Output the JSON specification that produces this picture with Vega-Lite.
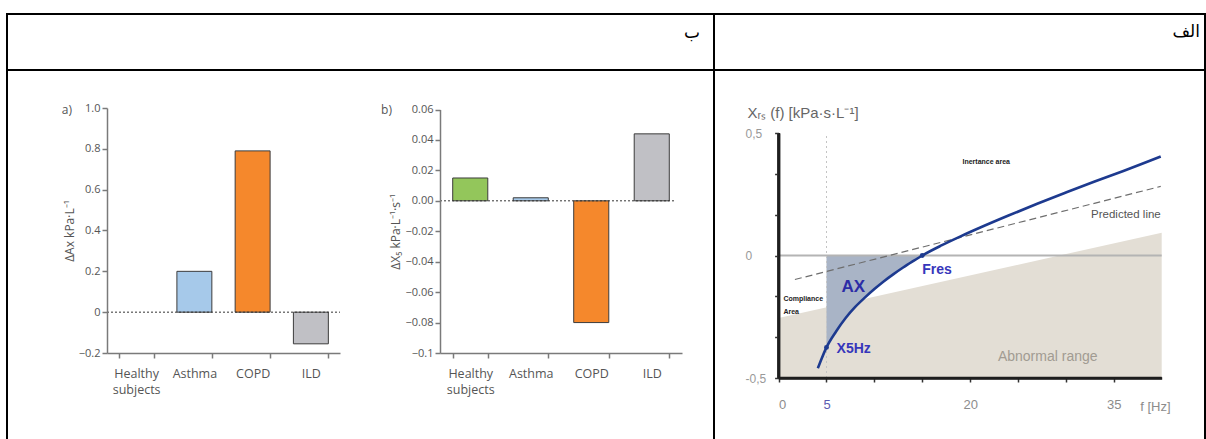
{
  "$schema": "https://vega.github.io/schema/vega-lite/v6.json",
  "background": "white",
  "padding": {"left": 6, "top": 13, "right": 0, "bottom": 0},
  "spacing": 0,
  "bounds": "flush",
  "columns": 2,
  "config": {"view": {"stroke": "#000000", "strokeWidth": 2}, "font": "Liberation Sans"},
  "datasets": {
    "curve": [
      {"f": 4.1, "xrs": -0.46}, {"f": 4.5, "xrs": -0.42}, {"f": 5, "xrs": -0.375},
      {"f": 6, "xrs": -0.31}, {"f": 7, "xrs": -0.255}, {"f": 8, "xrs": -0.21},
      {"f": 9, "xrs": -0.172}, {"f": 10, "xrs": -0.137}, {"f": 11, "xrs": -0.105},
      {"f": 12, "xrs": -0.076}, {"f": 13, "xrs": -0.049}, {"f": 14, "xrs": -0.024},
      {"f": 15, "xrs": 0}, {"f": 17, "xrs": 0.041}, {"f": 19, "xrs": 0.078},
      {"f": 21, "xrs": 0.113}, {"f": 24, "xrs": 0.163}, {"f": 27, "xrs": 0.211},
      {"f": 30, "xrs": 0.257}, {"f": 33, "xrs": 0.302}, {"f": 36, "xrs": 0.345},
      {"f": 39.9, "xrs": 0.404}
    ],
    "dAx": [
      {"group": "Asthma", "value": 0.2},
      {"group": "COPD", "value": 0.79},
      {"group": "ILD", "value": -0.155}
    ],
    "dX5": [
      {"group": "Healthy subjects", "value": 0.015},
      {"group": "Asthma", "value": 0.002},
      {"group": "COPD", "value": -0.08},
      {"group": "ILD", "value": 0.044}
    ]
  },
  "concat": [
    {
      "width": 707, "height": 56,
      "data": {"values": [{"label": "ب"}]},
      "mark": {"type": "text", "align": "right", "baseline": "alphabetic", "dx": -14, "dy": -4, "font": "DejaVu Sans", "fontSize": 17, "color": "#000000"},
      "encoding": {"x": {"value": "width"}, "text": {"field": "label"}}
    },
    {
      "width": 491, "height": 56,
      "data": {"values": [{"label": "الف"}]},
      "mark": {"type": "text", "align": "right", "baseline": "alphabetic", "dx": -5, "dy": -5, "font": "DejaVu Sans", "fontSize": 17, "color": "#000000"},
      "encoding": {"x": {"value": "width"}, "text": {"field": "label"}}
    },
    {
      "width": 707, "height": 380,
      "resolve": {"scale": {"x": "independent", "y": "independent"}, "axis": {"x": "independent", "y": "independent"}},
      "layer": [
        {
          "data": {"name": "dAx"},
          "mark": {"type": "bar", "stroke": "#3c3c3c", "strokeWidth": 1},
          "encoding": {
            "x": {"field": "group", "type": "nominal", "sort": null,
              "scale": {"domain": ["Healthy subjects", "Asthma", "COPD", "ILD"], "range": [100, 333], "paddingInner": 0.4, "paddingOuter": 0.2},
              "axis": {"orient": "bottom", "offset": -97, "title": null, "tickBand": "extent", "labelAngle": 0, "labelExpr": "split(datum.label, ' ')", "labelFont": "Open Sans", "labelFontSize": 12.5, "labelColor": "#555555", "labelPadding": 9, "labelLineHeight": 16, "domainColor": "#7a7a7a", "domainWidth": 1.5, "tickColor": "#7a7a7a", "tickSize": 5, "tickWidth": 1.5, "grid": false, "zindex": 1}},
            "y": {"field": "value", "type": "quantitative",
              "scale": {"domain": [-0.2, 1.0], "range": [283, 38], "nice": false},
              "axis": {"orient": "left", "offset": -100, "title": "ΔAx kPa·L⁻¹", "values": [-0.2, 0, 0.2, 0.4, 0.6, 0.8, 1.0], "labelExpr": "datum.value == 0 ? '0' : format(datum.value, '.1f')", "labelFont": "Open Sans", "labelFontSize": 11, "labelColor": "#555555", "labelPadding": 2, "domainColor": "#7a7a7a", "domainWidth": 1.5, "tickColor": "#7a7a7a", "tickSize": 5, "tickWidth": 1.5, "titleFont": "Open Sans", "titleFontSize": 12, "titleFontWeight": "normal", "titleColor": "#555555", "titlePadding": 2, "grid": false, "zindex": 1}},
            "color": {"field": "group", "type": "nominal", "scale": {"domain": ["Healthy subjects", "Asthma", "COPD", "ILD"], "range": ["#93c65b", "#a6c9ea", "#f5882c", "#c0c0c5"]}, "legend": null}
          }
        },
        {
          "data": {"values": [{}]},
          "mark": {"type": "rule", "color": "#333333", "strokeDash": [2, 2], "strokeWidth": 1},
          "encoding": {
            "x": {"datum": 0, "type": "quantitative", "scale": {"domain": [0, 1], "range": [100, 333]}, "axis": null},
            "x2": {"datum": 1},
            "y": {"datum": 0, "type": "quantitative", "scale": {"domain": [-0.2, 1.0], "range": [283, 38], "nice": false}, "axis": null}
          }
        },
        {
          "data": {"values": [{}]},
          "mark": {"type": "text", "text": "a)", "align": "right", "baseline": "middle", "dx": -35, "dy": 2, "font": "Open Sans", "fontSize": 12, "color": "#555555"},
          "encoding": {
            "x": {"datum": 0, "type": "quantitative", "scale": {"domain": [0, 1], "range": [100, 333]}, "axis": null},
            "y": {"datum": 1.0, "type": "quantitative", "scale": {"domain": [-0.2, 1.0], "range": [283, 38], "nice": false}, "axis": null}
          }
        },
        {
          "data": {"name": "dX5"},
          "mark": {"type": "bar", "stroke": "#3c3c3c", "strokeWidth": 1},
          "encoding": {
            "x": {"field": "group", "type": "nominal", "sort": null,
              "scale": {"domain": ["Healthy subjects", "Asthma", "COPD", "ILD"], "range": [433, 675], "paddingInner": 0.42, "paddingOuter": 0.21},
              "axis": {"orient": "bottom", "offset": -97, "title": null, "tickBand": "extent", "labelAngle": 0, "labelExpr": "split(datum.label, ' ')", "labelFont": "Open Sans", "labelFontSize": 12.5, "labelColor": "#555555", "labelPadding": 9, "labelLineHeight": 16, "domainColor": "#7a7a7a", "domainWidth": 1.5, "tickColor": "#7a7a7a", "tickSize": 5, "tickWidth": 1.5, "grid": false, "zindex": 1}},
            "y": {"field": "value", "type": "quantitative",
              "scale": {"domain": [-0.1, 0.06], "range": [283, 39.5], "nice": false},
              "axis": {"orient": "left", "offset": -433, "title": "ΔX₅ kPa·L⁻¹·s⁻¹", "values": [-0.1, -0.08, -0.06, -0.04, -0.02, 0, 0.02, 0.04, 0.06], "labelExpr": "datum.value < -0.09 ? format(datum.value, '.1f') : format(datum.value, '.2f')", "labelFont": "Open Sans", "labelFontSize": 11, "labelColor": "#555555", "labelPadding": 2, "domainColor": "#7a7a7a", "domainWidth": 1.5, "tickColor": "#7a7a7a", "tickSize": 5, "tickWidth": 1.5, "titleFont": "Open Sans", "titleFontSize": 12, "titleFontWeight": "normal", "titleColor": "#555555", "titlePadding": 2, "grid": false, "zindex": 1}},
            "color": {"field": "group", "type": "nominal", "scale": {"domain": ["Healthy subjects", "Asthma", "COPD", "ILD"], "range": ["#93c65b", "#a6c9ea", "#f5882c", "#c0c0c5"]}, "legend": null}
          }
        },
        {
          "data": {"values": [{}]},
          "mark": {"type": "rule", "color": "#333333", "strokeDash": [2, 2], "strokeWidth": 1},
          "encoding": {
            "x": {"datum": 0, "type": "quantitative", "scale": {"domain": [0, 1], "range": [433, 668]}, "axis": null},
            "x2": {"datum": 1},
            "y": {"datum": 0, "type": "quantitative", "scale": {"domain": [-0.1, 0.06], "range": [283, 39.5], "nice": false}, "axis": null}
          }
        },
        {
          "data": {"values": [{}]},
          "mark": {"type": "text", "text": "b)", "align": "right", "baseline": "middle", "dx": -48, "dy": 0, "font": "Open Sans", "fontSize": 12, "color": "#555555"},
          "encoding": {
            "x": {"datum": 0, "type": "quantitative", "scale": {"domain": [0, 1], "range": [433, 668]}, "axis": null},
            "y": {"datum": 0.06, "type": "quantitative", "scale": {"domain": [-0.1, 0.06], "range": [283, 39.5], "nice": false}, "axis": null}
          }
        }
      ]
    },
    {
      "width": 491, "height": 380,
      "resolve": {"axis": {"x": "independent", "y": "independent"}},
      "layer": [
        {
          "data": {"values": [{"f": 0, "top": -0.255, "bottom": -0.5}, {"f": 40, "top": 0.093, "bottom": -0.5}]},
          "mark": {"type": "area", "color": "#e3ded5"},
          "encoding": {
            "x": {"field": "f", "type": "quantitative", "scale": {"domain": [0, 40], "range": [64.6, 447.7], "nice": false, "zero": false},
              "axis": {"orient": "bottom", "offset": -72, "domain": true, "title": "f [Hz]", "values": [0, 5, 10, 15, 20, 25, 30, 35], "labelExpr": "datum.value == 0 || datum.value == 5 || datum.value == 20 || datum.value == 35 ? datum.label : ''", "labelFont": "Liberation Sans", "labelFontSize": 13, "labelColor": {"condition": {"test": "datum.value == 5", "value": "#5b5bb0"}, "value": "#8c8c8c"}, "labelPadding": 16, "domainColor": "#1e1e1e", "domainWidth": 2.5, "tickColor": "#333333", "tickSize": 4, "tickWidth": 1.5, "grid": false, "titleFont": "Liberation Sans", "titleFontSize": 13, "titleFontWeight": "normal", "titleColor": "#8c8c8c", "titleAlign": "right", "titleAnchor": "end", "titleBaseline": "alphabetic", "titleX": 456, "titleY": 32, "zindex": 1}},
            "y": {"field": "top", "type": "quantitative", "scale": {"domain": [-0.5, 0.5], "range": [308, 63], "nice": false, "zero": false},
              "axis": {"orient": "left", "offset": -64.6, "domain": true, "title": "Xᵣₛ (f)   [kPa·s·L⁻¹]", "values": [-0.5, -0.333, -0.167, 0, 0.167, 0.333, 0.5], "labelExpr": "datum.value == 0.5 ? '0,5' : datum.value == 0 ? '0' : datum.value == -0.5 ? '-0,5' : ''", "labelAlign": "left", "labelPadding": 29.5, "labelFont": "Liberation Sans", "labelFontSize": 12, "labelColor": "#999999", "domainColor": "#1e1e1e", "domainWidth": 2.5, "tickColor": "#333333", "tickSize": 4, "tickWidth": 1.5, "grid": false, "titleAngle": 0, "titleAlign": "left", "titleBaseline": "alphabetic", "titleX": -31.6, "titleY": 47, "titleFont": "Liberation Sans", "titleFontSize": 15, "titleFontWeight": "normal", "titleColor": "#666666", "zindex": 1}},
            "y2": {"field": "bottom"}
          }
        },
        {
          "data": {"name": "curve"},
          "transform": [{"filter": "datum.f >= 5 && datum.f <= 15"}],
          "mark": {"type": "area", "color": "#a9b4c6", "interpolate": "monotone"},
          "encoding": {
            "x": {"field": "f", "type": "quantitative", "scale": {"domain": [0, 40], "range": [64.6, 447.7], "nice": false, "zero": false}, "axis": null},
            "y": {"field": "xrs", "type": "quantitative", "scale": {"domain": [-0.5, 0.5], "range": [308, 63], "nice": false, "zero": false}, "axis": null},
            "y2": {"datum": 0}
          }
        },
        {
          "data": {"values": [{}]},
          "mark": {"type": "rule", "color": "#b4b4b4", "strokeWidth": 2},
          "encoding": {
            "x": {"datum": 0, "type": "quantitative", "scale": {"domain": [0, 40], "range": [64.6, 447.7], "nice": false, "zero": false}, "axis": null},
            "x2": {"datum": 40},
            "y": {"datum": 0, "type": "quantitative", "scale": {"domain": [-0.5, 0.5], "range": [308, 63], "nice": false, "zero": false}, "axis": null}
          }
        },
        {
          "data": {"values": [{}]},
          "mark": {"type": "rule", "color": "#c4c4c4", "strokeWidth": 1, "strokeDash": [2, 3]},
          "encoding": {
            "x": {"datum": 5, "type": "quantitative", "scale": {"domain": [0, 40], "range": [64.6, 447.7], "nice": false, "zero": false}, "axis": null},
            "y": {"datum": -0.5, "type": "quantitative", "scale": {"domain": [-0.5, 0.5], "range": [308, 63], "nice": false, "zero": false}, "axis": null},
            "y2": {"datum": 0.5}
          }
        },
        {
          "data": {"values": [{"f": 1.7, "pred": -0.098}, {"f": 39.9, "pred": 0.282}]},
          "mark": {"type": "line", "color": "#6e6e6e", "strokeDash": [7, 4], "strokeWidth": 1.2},
          "encoding": {
            "x": {"field": "f", "type": "quantitative", "scale": {"domain": [0, 40], "range": [64.6, 447.7], "nice": false, "zero": false}, "axis": null},
            "y": {"field": "pred", "type": "quantitative", "scale": {"domain": [-0.5, 0.5], "range": [308, 63], "nice": false, "zero": false}, "axis": null}
          }
        },
        {
          "data": {"name": "curve"},
          "mark": {"type": "line", "color": "#1d3a8f", "strokeWidth": 2.6, "interpolate": "monotone"},
          "encoding": {
            "x": {"field": "f", "type": "quantitative", "scale": {"domain": [0, 40], "range": [64.6, 447.7], "nice": false, "zero": false}, "axis": null},
            "y": {"field": "xrs", "type": "quantitative", "scale": {"domain": [-0.5, 0.5], "range": [308, 63], "nice": false, "zero": false}, "axis": null}
          }
        },
        {
          "data": {"values": [{"f": 5, "xrs": -0.375}, {"f": 15, "xrs": 0}]},
          "mark": {"type": "point", "filled": true, "size": 24, "color": "#1d3a8f", "opacity": 1},
          "encoding": {
            "x": {"field": "f", "type": "quantitative", "scale": {"domain": [0, 40], "range": [64.6, 447.7], "nice": false, "zero": false}, "axis": null},
            "y": {"field": "xrs", "type": "quantitative", "scale": {"domain": [-0.5, 0.5], "range": [308, 63], "nice": false, "zero": false}, "axis": null}
          }
        },
        {
          "data": {"values": [{"label": "AX", "f": 7.8, "xrs": -0.13}]},
          "mark": {"type": "text", "font": "Liberation Sans", "fontSize": 17, "fontWeight": "bold", "color": "#2c2ca6", "align": "center", "baseline": "middle"},
          "encoding": {
            "x": {"field": "f", "type": "quantitative", "scale": {"domain": [0, 40], "range": [64.6, 447.7], "nice": false, "zero": false}, "axis": null},
            "y": {"field": "xrs", "type": "quantitative", "scale": {"domain": [-0.5, 0.5], "range": [308, 63], "nice": false, "zero": false}, "axis": null},
            "text": {"field": "label"}
          }
        },
        {
          "data": {"values": [{"label": "Fres", "f": 15.0, "xrs": -0.06}, {"label": "X5Hz", "f": 6.05, "xrs": -0.382}]},
          "mark": {"type": "text", "font": "Liberation Sans", "fontSize": 14, "fontWeight": "bold", "color": "#3636bb", "align": "left", "baseline": "middle"},
          "encoding": {
            "x": {"field": "f", "type": "quantitative", "scale": {"domain": [0, 40], "range": [64.6, 447.7], "nice": false, "zero": false}, "axis": null},
            "y": {"field": "xrs", "type": "quantitative", "scale": {"domain": [-0.5, 0.5], "range": [308, 63], "nice": false, "zero": false}, "axis": null},
            "text": {"field": "label"}
          }
        },
        {
          "data": {"values": [{"label": "Inertance area", "f": 19.2, "xrs": 0.382}, {"label": "Compliance", "f": 0.5, "xrs": -0.179}, {"label": "Area", "f": 0.5, "xrs": -0.23}]},
          "mark": {"type": "text", "font": "Liberation Sans", "fontSize": 7, "fontWeight": "bold", "color": "#222222", "align": "left", "baseline": "middle"},
          "encoding": {
            "x": {"field": "f", "type": "quantitative", "scale": {"domain": [0, 40], "range": [64.6, 447.7], "nice": false, "zero": false}, "axis": null},
            "y": {"field": "xrs", "type": "quantitative", "scale": {"domain": [-0.5, 0.5], "range": [308, 63], "nice": false, "zero": false}, "axis": null},
            "text": {"field": "label"}
          }
        },
        {
          "data": {"values": [{"label": "Predicted line", "f": 39.9, "xrs": 0.167}]},
          "mark": {"type": "text", "font": "Liberation Sans", "fontSize": 11.5, "color": "#555555", "align": "right", "baseline": "middle"},
          "encoding": {
            "x": {"field": "f", "type": "quantitative", "scale": {"domain": [0, 40], "range": [64.6, 447.7], "nice": false, "zero": false}, "axis": null},
            "y": {"field": "xrs", "type": "quantitative", "scale": {"domain": [-0.5, 0.5], "range": [308, 63], "nice": false, "zero": false}, "axis": null},
            "text": {"field": "label"}
          }
        },
        {
          "data": {"values": [{"label": "Abnormal range", "f": 28.1, "xrs": -0.413}]},
          "mark": {"type": "text", "font": "Liberation Sans", "fontSize": 14, "color": "#a19b92", "align": "center", "baseline": "middle"},
          "encoding": {
            "x": {"field": "f", "type": "quantitative", "scale": {"domain": [0, 40], "range": [64.6, 447.7], "nice": false, "zero": false}, "axis": null},
            "y": {"field": "xrs", "type": "quantitative", "scale": {"domain": [-0.5, 0.5], "range": [308, 63], "nice": false, "zero": false}, "axis": null},
            "text": {"field": "label"}
          }
        },
        {
          "data": {"values": [{}]},
          "mark": {"type": "rule", "color": "#1e1e1e", "strokeWidth": 2.5},
          "encoding": {
            "x": {"datum": 0, "type": "quantitative", "scale": {"domain": [0, 40], "range": [64.6, 447.7], "nice": false, "zero": false}, "axis": null},
            "x2": {"datum": 40},
            "y": {"datum": -0.5, "type": "quantitative", "scale": {"domain": [-0.5, 0.5], "range": [308, 63], "nice": false, "zero": false}, "axis": null}
          }
        },
        {
          "data": {"values": [{"end": "low", "f": 0, "xrs": -0.5}, {"end": "high", "f": 0, "xrs": 0.5}]},
          "mark": {"type": "line", "color": "#1e1e1e", "strokeWidth": 3},
          "encoding": {
            "x": {"field": "f", "type": "quantitative", "scale": {"domain": [0, 40], "range": [64.6, 447.7], "nice": false, "zero": false}, "axis": null},
            "y": {"field": "xrs", "type": "quantitative", "scale": {"domain": [-0.5, 0.5], "range": [308, 63], "nice": false, "zero": false}, "axis": null},
            "order": {"field": "xrs", "type": "quantitative"}
          }
        }
      ]
    }
  ]
}
